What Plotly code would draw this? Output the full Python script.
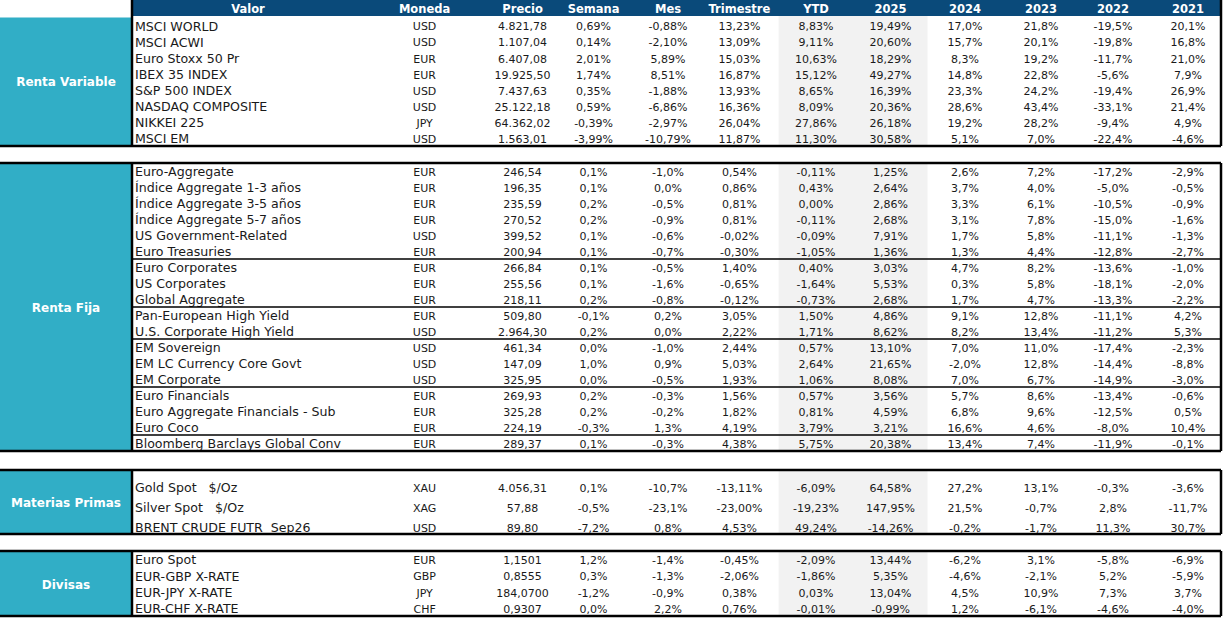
import plotly.graph_objects as go

# --- data -------------------------------------------------------------------
section_labels = ["Renta Variable", "Renta Fija", "Materias Primas", "Divisas"]
section_sizes = [8, 18, 3, 4]
rf_groups = [6, 3, 2, 3, 3, 1]  # sub-blocks inside Renta Fija

headers = ["Valor", "Moneda", "Precio", "Semana", "Mes", "Trimestre",
           "YTD", "2025", "2024", "2023", "2022", "2021"]

names = [
    "MSCI WORLD", "MSCI ACWI", "Euro Stoxx 50 Pr", "IBEX 35 INDEX",
    "S&P 500 INDEX", "NASDAQ COMPOSITE", "NIKKEI 225", "MSCI EM",
    "Euro-Aggregate", "Índice Aggregate 1-3 años", "Índice Aggregate 3-5 años",
    "Índice Aggregate 5-7 años", "US Government-Related", "Euro Treasuries",
    "Euro Corporates", "US Corporates", "Global Aggregate",
    "Pan-European High Yield", "U.S. Corporate High Yield",
    "EM Sovereign", "EM LC Currency Core Govt", "EM Corporate",
    "Euro Financials", "Euro Aggregate Financials - Sub", "Euro Coco",
    "Bloomberg Barclays Global Conv",
    "Gold Spot   $/Oz", "Silver Spot   $/Oz", "BRENT CRUDE FUTR  Sep26",
    "Euro Spot", "EUR-GBP X-RATE", "EUR-JPY X-RATE", "EUR-CHF X-RATE",
]
currency = [
    "USD", "USD", "EUR", "EUR", "USD", "USD", "JPY", "USD",
    "EUR", "EUR", "EUR", "EUR", "USD", "EUR", "EUR", "EUR", "EUR",
    "EUR", "USD", "USD", "USD", "USD", "EUR", "EUR", "EUR", "EUR",
    "XAU", "XAG", "USD",
    "EUR", "GBP", "JPY", "CHF",
]
price = [
    4821.78, 1107.04, 6407.08, 19925.50, 7437.63, 25122.18, 64362.02, 1563.01,
    246.54, 196.35, 235.59, 270.52, 399.52, 200.94, 266.84, 255.56, 218.11,
    509.80, 2964.30, 461.34, 147.09, 325.95, 269.93, 325.28, 224.19, 289.37,
    4056.31, 57.88, 89.80,
    1.1501, 0.8555, 184.0700, 0.9307,
]
semana = [
    0.69, 0.14, 2.01, 1.74, 0.35, 0.59, -0.39, -3.99,
    0.1, 0.1, 0.2, 0.2, 0.1, 0.1, 0.1, 0.1, 0.2,
    -0.1, 0.2, 0.0, 1.0, 0.0, 0.2, 0.2, -0.3, 0.1,
    0.1, -0.5, -7.2,
    1.2, 0.3, -1.2, 0.0,
]
mes = [
    -0.88, -2.10, 5.89, 8.51, -1.88, -6.86, -2.97, -10.79,
    -1.0, 0.0, -0.5, -0.9, -0.6, -0.7, -0.5, -1.6, -0.8,
    0.2, 0.0, -1.0, 0.9, -0.5, -0.3, -0.2, 1.3, -0.3,
    -10.7, -23.1, 0.8,
    -1.4, -1.3, -0.9, 2.2,
]
trimestre = [
    13.23, 13.09, 15.03, 16.87, 13.93, 16.36, 26.04, 11.87,
    0.54, 0.86, 0.81, 0.81, -0.02, -0.30, 1.40, -0.65, -0.12,
    3.05, 2.22, 2.44, 5.03, 1.93, 1.56, 1.82, 4.19, 4.38,
    -13.11, -23.00, 4.53,
    -0.45, -2.06, 0.38, 0.76,
]
ytd = [
    8.83, 9.11, 10.63, 15.12, 8.65, 8.09, 27.86, 11.30,
    -0.11, 0.43, 0.00, -0.11, -0.09, -1.05, 0.40, -1.64, -0.73,
    1.50, 1.71, 0.57, 2.64, 1.06, 0.57, 0.81, 3.79, 5.75,
    -6.09, -19.23, 49.24,
    -2.09, -1.86, 0.03, -0.01,
]
y2025 = [
    19.49, 20.60, 18.29, 49.27, 16.39, 20.36, 26.18, 30.58,
    1.25, 2.64, 2.86, 2.68, 7.91, 1.36, 3.03, 5.53, 2.68,
    4.86, 8.62, 13.10, 21.65, 8.08, 3.56, 4.59, 3.21, 20.38,
    64.58, 147.95, -14.26,
    13.44, 5.35, 13.04, -0.99,
]
y2024 = [
    17.0, 15.7, 8.3, 14.8, 23.3, 28.6, 19.2, 5.1,
    2.6, 3.7, 3.3, 3.1, 1.7, 1.3, 4.7, 0.3, 1.7,
    9.1, 8.2, 7.0, -2.0, 7.0, 5.7, 6.8, 16.6, 13.4,
    27.2, 21.5, -0.2,
    -6.2, -4.6, 4.5, 1.2,
]
y2023 = [
    21.8, 20.1, 19.2, 22.8, 24.2, 43.4, 28.2, 7.0,
    7.2, 4.0, 6.1, 7.8, 5.8, 4.4, 8.2, 5.8, 4.7,
    12.8, 13.4, 11.0, 12.8, 6.7, 8.6, 9.6, 4.6, 7.4,
    13.1, -0.7, -1.7,
    3.1, -2.1, 10.9, -6.1,
]
y2022 = [
    -19.5, -19.8, -11.7, -5.6, -19.4, -33.1, -9.4, -22.4,
    -17.2, -5.0, -10.5, -15.0, -11.1, -12.8, -13.6, -18.1, -13.3,
    -11.1, -11.2, -17.4, -14.4, -14.9, -13.4, -12.5, -8.0, -11.9,
    -0.3, 2.8, 11.3,
    -5.8, 5.2, 7.3, -4.6,
]
y2021 = [
    20.1, 16.8, 21.0, 7.9, 26.9, 21.4, 4.9, -4.6,
    -2.9, -0.5, -0.9, -1.6, -1.3, -2.7, -1.0, -2.0, -2.2,
    4.2, 5.3, -2.3, -8.8, -3.0, -0.6, 0.5, 10.4, -0.1,
    -3.6, -11.7, 30.7,
    -6.9, -5.9, 3.7, -4.0,
]

# decimals used for each section (Semana / Mes) and price
short_dec = [2, 1, 1, 1]
price_dec = [2, 2, 2, 4]

# --- style / layout constants ---------------------------------------------
W, H = 1228, 621
FONT = "Century Gothic, DejaVu Sans, sans-serif"
NAVY = "#0a4a7a"
TEAL = "#31aec6"
GREY = "#f2f2f2"
TXT = "#1a1a1a"

x_left, x_right = 132, 1221
x_name = 135
col_x = [248, 424.6, 522.6, 593.6, 668, 739.4, 816, 890.6, 965, 1041, 1113, 1188]
grey_x = (778.6, 927.5)
header_h = 16
text_dy = 2.0  # plotly puts "middle" text a bit high

sec_top = [16, 163, 470, 551]
sec_bottom = [146, 451, 534, 616]
row_first = [9.6, 8.3, 17, 8.3]
row_step = [16.1, 16, 20, 16.25]


def es(v, d, pct=True):
    s = f"{v:,.{d}f}".replace(",", "X").replace(".", ",").replace("X", ".")
    return s + ("%" if pct else "")


# rows' y positions and section index
row_y, row_sec = [], []
for s, n in enumerate(section_sizes):
    for i in range(n):
        row_y.append(sec_top[s] + row_first[s] + i * row_step[s] + text_dy)
        row_sec.append(s)

fig = go.Figure()
shapes = []

# header bar
shapes.append(dict(type="rect", x0=x_left, x1=x_right, y0=0, y1=header_h,
                   fillcolor=NAVY, line_width=0, layer="below"))

for s in range(len(section_sizes)):
    top, bot = sec_top[s], sec_bottom[s]
    shapes.append(dict(type="rect", x0=grey_x[0], x1=grey_x[1], y0=top, y1=bot,
                       fillcolor=GREY, line_width=0, layer="below"))
    shapes.append(dict(type="rect", x0=0, x1=x_left - 1,
                       y0=top + 1.5 if s == 0 else top, y1=bot,
                       fillcolor=TEAL, line_width=0, layer="below"))
    line = dict(color="black", width=2.5)
    if s > 0:
        shapes.append(dict(type="line", x0=0, x1=x_right, y0=top, y1=top, line=line))
    shapes.append(dict(type="line", x0=0, x1=x_right, y0=bot, y1=bot, line=line))
    shapes.append(dict(type="line", x0=x_left, x1=x_left,
                       y0=0 if s == 0 else top, y1=bot, line=line))
    shapes.append(dict(type="line", x0=x_right, x1=x_right,
                       y0=0 if s == 0 else top, y1=bot, line=line))

# thin separators inside Renta Fija
acc = 0
for g in rf_groups[:-1]:
    acc += g
    yy = sec_top[1] + acc * row_step[1]
    shapes.append(dict(type="line", x0=x_left, x1=x_right, y0=yy, y1=yy,
                       line=dict(color="black", width=1.3)))

# header text
fig.add_trace(go.Scatter(
    x=col_x, y=[header_h / 2 + 1.8] * len(headers), text=headers, mode="text",
    textposition="middle center",
    textfont=dict(family=FONT, size=11.5, color="white", weight="bold"),
    hoverinfo="skip", showlegend=False))

# section labels
fig.add_trace(go.Scatter(
    x=[66] * len(section_labels),
    y=[(sec_top[s] + sec_bottom[s]) / 2 + text_dy for s in range(len(section_labels))],
    text=section_labels, mode="text", textposition="middle center",
    textfont=dict(family=FONT, size=12, color="white", weight="bold"),
    hoverinfo="skip", showlegend=False))

# names
fig.add_trace(go.Scatter(
    x=[x_name] * len(names), y=row_y,
    text=[n.replace(" ", "\u00a0") for n in names], mode="text",
    textposition="middle right",
    textfont=dict(family=FONT, size=12.6, color=TXT),
    hoverinfo="skip", showlegend=False))

columns = [
    currency,
    [es(v, price_dec[s], False) for v, s in zip(price, row_sec)],
    [es(v, short_dec[s]) for v, s in zip(semana, row_sec)],
    [es(v, short_dec[s]) for v, s in zip(mes, row_sec)],
    [es(v, 2) for v in trimestre],
    [es(v, 2) for v in ytd],
    [es(v, 2) for v in y2025],
    [es(v, 1) for v in y2024],
    [es(v, 1) for v in y2023],
    [es(v, 1) for v in y2022],
    [es(v, 1) for v in y2021],
]
for cx, col in zip(col_x[1:], columns):
    fig.add_trace(go.Scatter(
        x=[cx] * len(col), y=row_y, text=col, mode="text",
        textposition="middle center",
        textfont=dict(family=FONT, size=11, color=TXT),
        hoverinfo="skip", showlegend=False))

fig.update_layout(
    width=W, height=H, margin=dict(l=0, r=0, t=0, b=0),
    paper_bgcolor="white", plot_bgcolor="white",
    shapes=shapes, hovermode=False,
    xaxis=dict(range=[0, W], visible=False, fixedrange=True),
    yaxis=dict(range=[H, 0], visible=False, fixedrange=True),
)

fig.write_html("out.html", config={"displayModeBar": False},
               post_script="document.body.style.margin='0px';"
                           "document.body.style.overflow='hidden';")
